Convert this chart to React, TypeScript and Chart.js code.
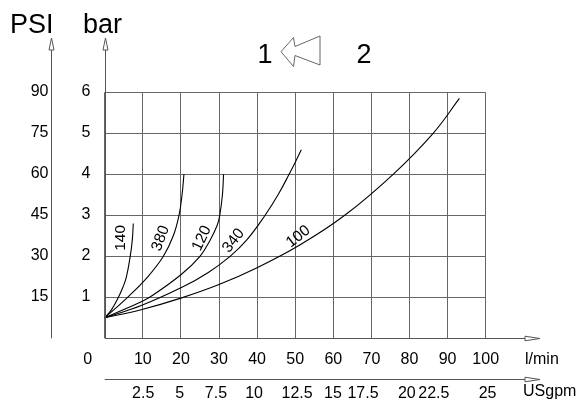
import { useEffect, useRef } from 'react';
import { Chart, registerables } from 'chart.js';

Chart.register(...registerables);

// ---- data (l/min vs bar) ----
const curveNames = ['140', '380', '120', '340', '100'];
const q140 = [0, 1.8, 3.6, 4.8, 5.7, 6.7, 7.25, 7.5];
const p140 = [0.5, 0.7, 1.0, 1.25, 1.5, 2.0, 2.4, 2.8];
const q380 = [0, 6, 11.3, 15.4, 18, 19.5, 20.3, 20.8];
const p380 = [0.5, 1.0, 1.5, 2.0, 2.5, 3.0, 3.5, 4.0];
const q120 = [0, 5, 9.3, 11.8, 20, 25, 27.7, 29.5, 30.2, 30.9, 31.2];
const p120 = [0.5, 0.7, 0.88, 1.0, 1.55, 2.0, 2.4, 2.75, 3.0, 3.5, 4.0];
const q340 = [0, 9.6, 20.4, 27.1, 32.9, 37.3, 42.1, 45.5, 48.4, 50.3, 51.6];
const p340 = [0.5, 0.8, 1.25, 1.6, 2.0, 2.4, 3.0, 3.5, 4.0, 4.35, 4.6];
const q100 = [0, 9.3, 20, 30, 40, 51.3, 63, 75.7, 86.2, 93.1];
const p100 = [0.5, 0.69, 0.98, 1.31, 1.72, 2.28, 3.0, 4.0, 5.0, 5.85];

const barTicks = [1, 2, 3, 4, 5, 6];
const psiTicks = [15, 30, 45, 60, 75, 90];
const lpmTicks = [10, 20, 30, 40, 50, 60, 70, 80, 90, 100];
const usgpmTicks = ['2.5', '5', '7.5', '10', '12.5', '15', '17.5', '20', '22.5', '25'];
const usgpmAt = [10.1, 19.7, 29.2, 39.2, 50.5, 59.9, 67.8, 79.3, 86.4, 100.5];

const FONT = '"Liberation Sans", Arial, Helvetica, sans-serif';

const curveLabelPlace = [
  { x: 4.2, y: 2.45, rot: -90 },
  { x: 14.7, y: 2.44, rot: -70 },
  { x: 25.5, y: 2.44, rot: -65 },
  { x: 33.8, y: 2.38, rot: -52 },
  { x: 50.8, y: 2.48, rot: -38 },
];

const toPts = (q: number[], p: number[]) => q.map((v, i) => ({ x: v, y: p[i] }));

const decor = {
  id: 'decor',
  afterDraw(chart: any) {
    const ctx: CanvasRenderingContext2D = chart.ctx;
    const xs = chart.scales.x;
    const ys = chart.scales.y;
    const x0 = xs.getPixelForValue(0);
    const y0 = ys.getPixelForValue(0);
    const psiX = 51.3;
    ctx.save();
    ctx.strokeStyle = '#555';
    ctx.lineWidth = 1;

    const vArrow = (x: number) => {
      ctx.beginPath();
      ctx.moveTo(x, y0);
      ctx.lineTo(x, 40);
      ctx.stroke();
      ctx.beginPath();
      ctx.moveTo(x - 2.5, 50);
      ctx.lineTo(x, 38);
      ctx.lineTo(x + 2.5, 50);
      ctx.closePath();
      ctx.fillStyle = '#fff';
      ctx.fill();
      ctx.stroke();
    };
    const hArrow = (y: number) => {
      ctx.beginPath();
      ctx.moveTo(x0, y);
      ctx.lineTo(537, y);
      ctx.stroke();
      ctx.beginPath();
      ctx.moveTo(525, y - 2.3);
      ctx.lineTo(540, y);
      ctx.lineTo(525, y + 2.3);
      ctx.closePath();
      ctx.fillStyle = '#fff';
      ctx.fill();
      ctx.stroke();
    };
    vArrow(Math.round(psiX) + 0.5);
    vArrow(Math.round(x0) + 0.5);
    hArrow(Math.round(y0) + 0.5);
    hArrow(379.5);

    // header arrow 1 <- 2
    ctx.strokeStyle = '#666';
    ctx.beginPath();
    ctx.moveTo(281, 51.7);
    ctx.lineTo(293.5, 37.5);
    ctx.lineTo(295, 46.5);
    ctx.lineTo(320, 36);
    ctx.lineTo(320, 65);
    ctx.lineTo(295, 55.5);
    ctx.lineTo(293.5, 66.5);
    ctx.closePath();
    ctx.stroke();

    ctx.fillStyle = '#000';
    ctx.textBaseline = 'alphabetic';
    ctx.font = `27px ${FONT}`;
    ctx.textAlign = 'left';
    ctx.fillText('PSI', 10, 33);
    ctx.fillText('bar', 83, 33);
    ctx.textAlign = 'center';
    ctx.fillText('1', 265, 63);
    ctx.fillText('2', 364, 63);

    ctx.font = `16px ${FONT}`;
    ctx.textBaseline = 'middle';
    barTicks.forEach((b) => {
      ctx.textAlign = 'right';
      ctx.fillText(String(b), 90.5, ys.getPixelForValue(b) - 1);
    });
    psiTicks.forEach((p) => {
      ctx.textAlign = 'right';
      ctx.fillText(String(p), 48.5, ys.getPixelForValue(p / 15) - 1);
    });
    ctx.textAlign = 'center';
    ctx.fillText('0', x0 - 17, 359.5);
    lpmTicks.forEach((v) => {
      ctx.fillText(String(v), xs.getPixelForValue(v), 359.5);
    });
    usgpmTicks.forEach((t, i) => {
      ctx.fillText(t, xs.getPixelForValue(usgpmAt[i]), 394);
    });
    ctx.textAlign = 'left';
    ctx.fillText('l/min', 525, 359.5);
    ctx.fillText('USgpm', 523, 392);

    ctx.font = `15.5px ${FONT}`;
    curveNames.forEach((n, i) => {
      const pl = curveLabelPlace[i];
      ctx.save();
      ctx.translate(xs.getPixelForValue(pl.x), ys.getPixelForValue(pl.y));
      ctx.rotate((pl.rot * Math.PI) / 180);
      ctx.textAlign = 'center';
      ctx.textBaseline = 'middle';
      ctx.fillText(n, 0, 0);
      ctx.restore();
    });
    ctx.restore();
  },
};

export default function App() {
  const ref = useRef<HTMLCanvasElement>(null);
  useEffect(() => {
    if (!ref.current) return;
    const series = [
      toPts(q140, p140),
      toPts(q380, p380),
      toPts(q120, p120),
      toPts(q340, p340),
      toPts(q100, p100),
    ];
    const chart = new Chart(ref.current, {
      type: 'line',
      data: {
        datasets: series.map((d, i) => ({
          label: curveNames[i],
          data: d,
          borderColor: '#000',
          borderWidth: 1.1,
          pointRadius: 0,
          fill: false,
          tension: 0.4,
        })),
      },
      options: {
        animation: false,
        responsive: false,
        maintainAspectRatio: false,
        layout: { padding: { left: 104.7, right: 93.3, top: 92.3, bottom: 63.7 } },
        plugins: { legend: { display: false }, tooltip: { enabled: false } },
        scales: {
          x: {
            type: 'linear',
            min: 0,
            max: 100,
            ticks: { display: false, stepSize: 10 },
            grid: { color: '#666', lineWidth: 1, drawTicks: false },
            border: { display: false },
          },
          y: {
            type: 'linear',
            min: 0,
            max: 6,
            ticks: { display: false, stepSize: 1 },
            grid: { color: '#666', lineWidth: 1, drawTicks: false },
            border: { display: false },
          },
        },
      },
      plugins: [decor],
    });
    return () => chart.destroy();
  }, []);
  return (
    <div style={{ position: 'fixed', left: 0, top: 0, width: 579, height: 402, background: '#fff' }}>
      <canvas ref={ref} width={579} height={402} style={{ display: 'block', width: 579, height: 402 }} />
    </div>
  );
}
